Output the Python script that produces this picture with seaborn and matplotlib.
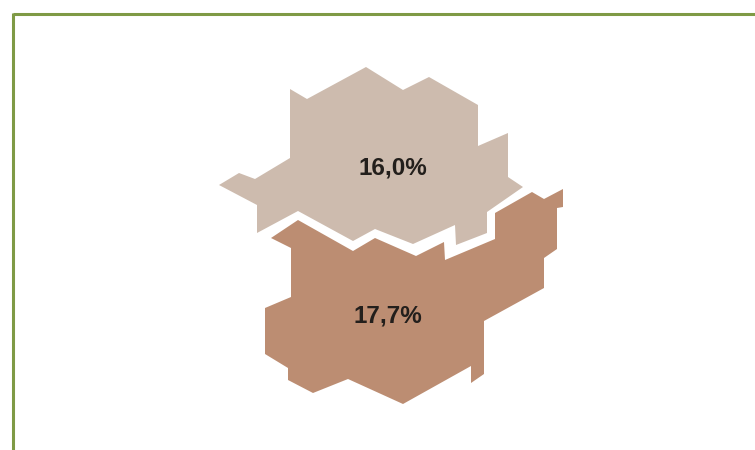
import matplotlib
matplotlib.use('Agg')
import matplotlib.pyplot as plt
import seaborn as sns

# outlines
upper_x = [366, 307, 290, 290, 255, 239, 219, 257, 257, 298, 353, 375, 413, 455, 456, 487, 487, 523, 508, 508, 478, 478, 429, 403]
upper_y = [67, 99, 89, 158, 179, 173, 185, 205, 233, 211, 241, 229, 244, 225, 245, 233, 212, 187, 177, 133, 146, 105, 77, 90]
lower_x = [298, 271, 291, 291, 265, 265, 288, 288, 313, 348, 403, 471, 471, 484, 484, 544, 544, 557, 557, 563, 563, 544, 532, 495, 495, 445, 444, 416, 375, 353]
lower_y = [220, 238, 248, 297, 308, 354, 368, 380, 393, 379, 404, 366, 383, 374, 321, 288, 258, 249, 208, 207, 189, 199, 192, 213, 239, 260, 242, 256, 238, 251]

upper_label = '16,0%'
lower_label = '17,7%'
upper_label_pos = (393, 168)
lower_label_pos = (388, 316)

upper_color = '#cdbbae'
lower_color = '#bc8d72'
frame_color = '#7f9a45'
text_color = '#231f1c'

sns.set_style('white')
plt.rcParams['font.family'] = ['Liberation Sans', 'DejaVu Sans']

W, H = 755, 450
left, top = 12.5, 13.5

fig = plt.figure(figsize=(W / 100, H / 100), dpi=100)
ax = fig.add_axes([left / W, 0, (W - left) / W, (H - top) / H])
ax.set_xlim(left, W)
ax.set_ylim(H, top)

ax.fill(upper_x, upper_y, color=upper_color, lw=0)
ax.fill(lower_x, lower_y, color=lower_color, lw=0)

ax.text(*upper_label_pos, upper_label, ha='center', va='center', fontsize=17.5, fontweight='bold', color=text_color)
ax.text(*lower_label_pos, lower_label, ha='center', va='center', fontsize=17.5, fontweight='bold', color=text_color)

ax.set_xticks([])
ax.set_yticks([])
sns.despine(ax=ax, right=True, bottom=True)
for side in ['left', 'top']:
    ax.spines[side].set_visible(True)
    ax.spines[side].set_color(frame_color)
    ax.spines[side].set_linewidth(2.2)
    ax.spines[side].set_capstyle('butt')

fig.savefig('out.png', dpi=100)
